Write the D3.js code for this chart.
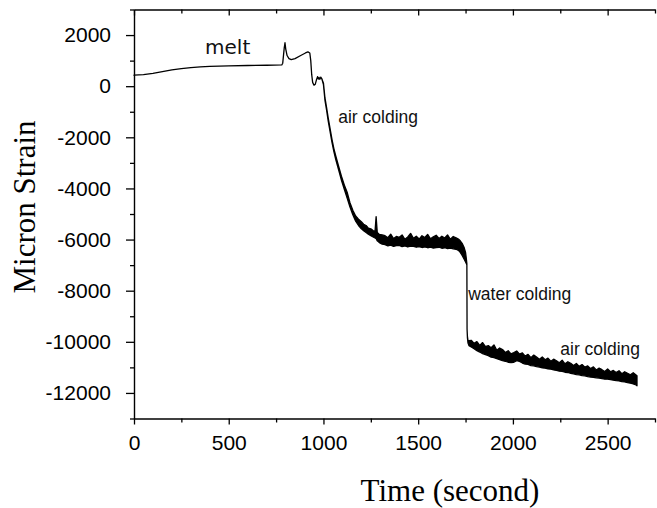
<!DOCTYPE html>
<html>
<head>
<meta charset="utf-8">
<script src="https://cdn.jsdelivr.net/npm/d3@7/dist/d3.min.js"></script>
<style>
  html, body { margin: 0; padding: 0; background: #fff; }
  svg { display: block; }
</style>
</head>
<body>
<svg id="chart" width="657" height="508"></svg>
<script>
// ---------------- data ----------------
// time in seconds, lower and upper envelope of the strain trace (micron strain)
const time = [
  0,50,100,150,200,250,300,350,400,500,600,700,780,785,793,797,801,808,818,830,850,880,905,918,928,933,938,943,950,957,963,969,973,977,981,986,991,
  1000,1008,1017,1025,1035,1045,1055,1065,1080,1095,1110,1125,1140,1155,1170,1185,1200,1212,1225,1237,1250,1262,1272,1278,1284,1295,1310,
  1325,1340,1355,1370,1385,1400,1415,1430,1445,1460,1475,1490,1505,1520,1535,1550,1565,1580,1595,1610,1625,1640,1655,1670,1685,1700,
  1712,1722,1732,1742,1750,1755,1757,
  1758,1760,1763,1768,
  1780,1795,1810,1825,1840,1855,1870,1885,1900,1915,1930,1945,1960,1975,1990,2005,2020,2035,2050,2065,2080,2095,2110,2125,2140,2155,2170,2185,2200,
  2215,2230,2245,2260,2275,2290,2305,2320,2335,2350,2365,2380,2395,2410,2425,2440,2455,2470,2485,2500,2515,2530,2545,2560,2575,2590,2605,2620,2635,2650,2655
];
const strainLow = [
  430,450,500,570,640,690,730,755,775,795,810,820,830,900,1500,1700,1450,1200,1080,1040,1080,1200,1300,1340,1300,1000,450,150,40,80,250,370,280,340,270,350,300,
  60,-560,-960,-1360,-1780,-2200,-2560,-2870,-3270,-3680,-4030,-4380,-4730,-5030,-5280,-5450,-5580,-5650,-5720,-5790,-5850,-5900,-5940,-5960,-6050,-6120,-6180,
  -6200,-6250,-6220,-6270,-6240,-6230,-6280,-6250,-6290,-6260,-6270,-6300,-6280,-6310,-6290,-6320,-6300,-6330,-6310,-6300,-6340,-6320,-6350,-6330,-6360,-6380,
  -6420,-6500,-6620,-6760,-6880,-6950,-7000,
  -9500,-9850,-10050,-10150,
  -10200,-10270,-10350,-10400,-10460,-10500,-10540,-10600,-10620,-10660,-10700,-10740,-10760,-10800,-10810,-10800,-10740,-10770,-10830,-10870,-10880,-10930,-10940,-10970,-10990,-11020,-11030,-11060,-11070,
  -11100,-11120,-11150,-11160,-11190,-11200,-11230,-11250,-11280,-11290,-11320,-11330,-11360,-11380,-11390,-11410,-11420,-11440,-11460,-11460,-11480,-11500,-11520,-11530,-11560,-11570,-11600,-11620,-11650,-11690,-11720
];
const strainHigh = [
  430,450,500,570,640,690,730,755,775,795,810,820,830,900,1500,1700,1450,1200,1080,1040,1080,1200,1300,1340,1300,1000,450,150,40,80,250,370,280,340,270,350,300,
  120,-460,-860,-1240,-1660,-2080,-2440,-2730,-3130,-3520,-3860,-4150,-4560,-4850,-5080,-5200,-5300,-5400,-5450,-5550,-5580,-5650,-5700,-5100,-5720,-5800,-5820,
  -5850,-5930,-5790,-5960,-5880,-5910,-5820,-5990,-5900,-5760,-5950,-5870,-5980,-5850,-5920,-5800,-5970,-5890,-5830,-5960,-5870,-5940,-5820,-5990,-5880,-5930,
  -5980,-6050,-6150,-6300,-6500,-6800,-6950,
  -9500,-9800,-9950,-9950,
  -9940,-10060,-9990,-10140,-10030,-10190,-10150,-10230,-10120,-10330,-10240,-10300,-10420,-10350,-10470,-10420,-10360,-10480,-10430,-10560,-10490,-10620,-10520,-10600,-10680,-10590,-10700,-10640,-10760,
  -10680,-10740,-10820,-10720,-10860,-10780,-10840,-10930,-10850,-10960,-10890,-10990,-10940,-11050,-10980,-11100,-11030,-11090,-11160,-11060,-11170,-11120,-11200,-11130,-11250,-11170,-11230,-11290,-11210,-11300,-11330
];

const xMajorTicks = [0, 500, 1000, 1500, 2000, 2500];
const xMinorTicks = [250, 750, 1250, 1750, 2250, 2750];
const xTickLabels = ["0", "500", "1000", "1500", "2000", "2500"];
const yMajorTicks = [2000, 0, -2000, -4000, -6000, -8000, -10000, -12000];
const yMinorTicks = [3000, 1000, -1000, -3000, -5000, -7000, -9000, -11000, -13000];
const yTickLabels = ["2000", "0", "-2000", "-4000", "-6000", "-8000", "-10000", "-12000"];

const annotations = [
  { text: "melt", t: 375, v: 1250, font: "'DejaVu Sans', sans-serif", size: 20 },
  { text: "air colding", t: 1078, v: -1430, font: "Arial, 'Liberation Sans', sans-serif", size: 17.5 },
  { text: "water colding", t: 1764, v: -8380, font: "Arial, 'Liberation Sans', sans-serif", size: 17.5 },
  { text: "air colding", t: 2250, v: -10500, font: "Arial, 'Liberation Sans', sans-serif", size: 17.5 }
];

// ---------------- drawing ----------------
const svg = d3.select("#chart");
const x = d3.scaleLinear().domain([0, 2750]).range([134, 655]);
const y = d3.scaleLinear().domain([-13000, 3000]).range([418.5, 9.5]);

const rows = time.map((t, i) => ({ t, lo: strainLow[i], hi: strainHigh[i] }));

// trace
svg.append("path")
  .datum(rows)
  .attr("d", d3.area().x(d => x(d.t)).y0(d => y(d.lo)).y1(d => y(d.hi)))
  .attr("fill", "#000")
  .attr("stroke", "#000")
  .attr("stroke-width", 1.3)
  .attr("stroke-linejoin", "round");

const tickFont = "Arial, 'Liberation Sans', sans-serif";

function styleAxis(g) {
  g.selectAll("path.domain").attr("stroke", "#000").attr("stroke-width", 1.4);
  g.selectAll(".tick line").attr("stroke", "#000").attr("stroke-width", 1.3);
  g.selectAll(".tick text").attr("fill", "#000").style("font-family", tickFont).style("font-size", "21px");
}

// left axis
const yMajor = svg.append("g").attr("transform", "translate(134,0)")
  .call(d3.axisLeft(y).tickValues(yMajorTicks).tickSize(8).tickSizeOuter(0).tickPadding(15)
    .tickFormat((d, i) => yTickLabels[i]));
styleAxis(yMajor);
const yMinor = svg.append("g").attr("transform", "translate(134,0)")
  .call(d3.axisLeft(y).tickValues(yMinorTicks).tickSize(4).tickFormat(""));
yMinor.select("path.domain").remove();
styleAxis(yMinor);

// bottom axis
const xMajor = svg.append("g").attr("transform", "translate(0,418.5)")
  .call(d3.axisBottom(x).tickValues(xMajorTicks).tickSize(6).tickSizeOuter(0).tickPadding(11)
    .tickFormat((d, i) => xTickLabels[i]));
styleAxis(xMajor);
const xMinor = svg.append("g").attr("transform", "translate(0,418.5)")
  .call(d3.axisBottom(x).tickValues(xMinorTicks).tickSize(4).tickFormat(""));
xMinor.select("path.domain").remove();
styleAxis(xMinor);

// top axis (ticks pointing inward)
const tMajor = svg.append("g").attr("transform", "translate(0,9.5)")
  .call(d3.axisBottom(x).tickValues(xMajorTicks).tickSize(6).tickSizeOuter(0).tickFormat(""));
styleAxis(tMajor);
const tMinor = svg.append("g").attr("transform", "translate(0,9.5)")
  .call(d3.axisBottom(x).tickValues(xMinorTicks).tickSize(4).tickFormat(""));
tMinor.select("path.domain").remove();
styleAxis(tMinor);

// annotations
annotations.forEach(a => {
  svg.append("text")
    .attr("x", x(a.t)).attr("y", y(a.v))
    .style("font-family", a.font).style("font-size", a.size + "px")
    .attr("fill", "#111")
    .text(a.text);
});

// axis titles
svg.append("text")
  .attr("transform", "translate(35,207) rotate(-90)")
  .attr("text-anchor", "middle")
  .style("font-family", "'Liberation Serif', 'Times New Roman', serif")
  .style("font-size", "31px")
  .attr("fill", "#000")
  .text("Micron Strain");

svg.append("text")
  .attr("x", 450).attr("y", 501)
  .attr("text-anchor", "middle")
  .style("font-family", "'Liberation Serif', 'Times New Roman', serif")
  .style("font-size", "31px")
  .attr("fill", "#000")
  .text("Time (second)");
</script>
</body>
</html>
